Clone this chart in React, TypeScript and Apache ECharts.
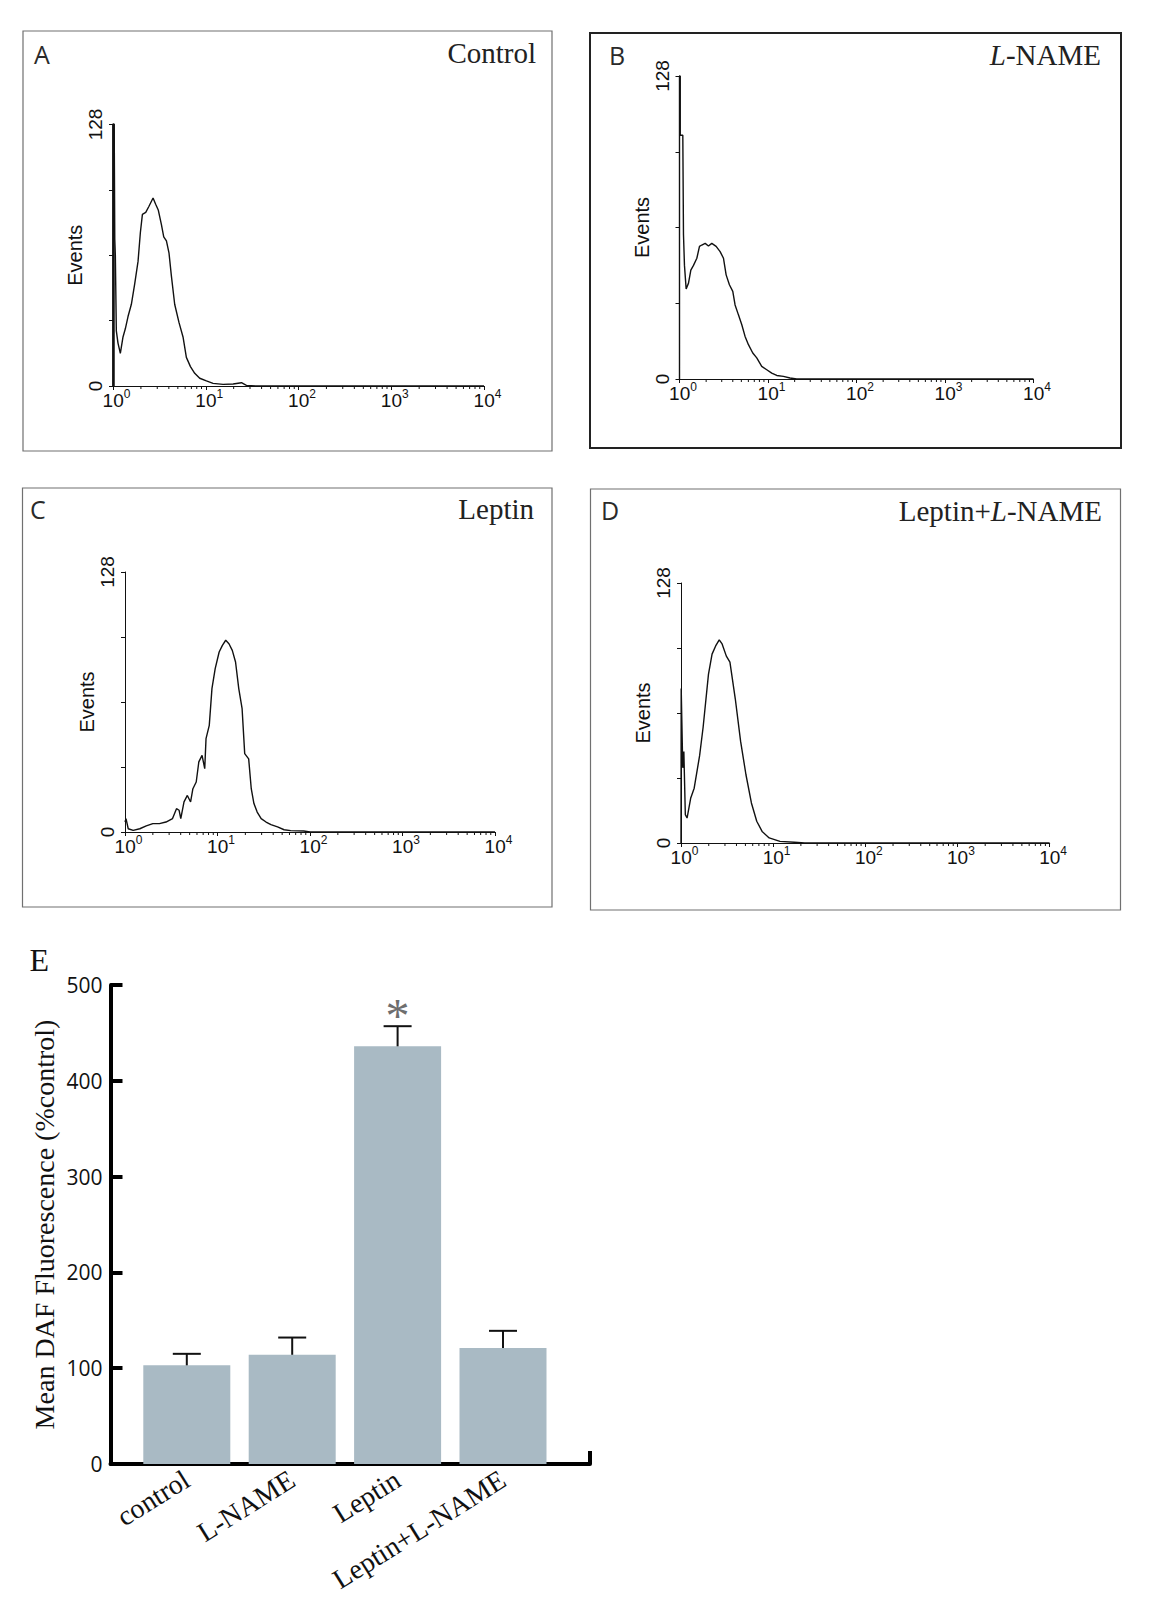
import React, { useEffect, useRef } from "react";
import * as echarts from "echarts";

// ---------- DATA ----------
// Flow-cytometry histograms: [fluorescence (log scale), events]
const histControl: [number, number][] = [
  [1, 0], [1, 128], [1.03, 128], [1.045, 72], [1.06, 64], [1.086, 27], [1.132, 21], [1.2, 16],
  [1.282, 24], [1.358, 28], [1.452, 34], [1.578, 40], [1.714, 50], [1.862, 61], [1.972, 75],
  [2.075, 84], [2.254, 85], [2.443, 88], [2.703, 92], [2.884, 89], [3.083, 86], [3.327, 79],
  [3.524, 73], [3.767, 71], [4.018, 65], [4.257, 54], [4.624, 40], [5.152, 31], [5.689, 24],
  [6.18, 14], [6.839, 9.5], [7.603, 6.2], [8.61, 3.8], [10.16, 2.5], [11.99, 1.3], [15.38, 0.8],
  [19.72, 1], [24.26, 1.6], [27.46, 0.3], [35, 0], [10000, 0],
];
const histLName: [number, number][] = [
  [1, 0], [1, 128], [1.02, 128], [1.02, 103], [1.09, 103], [1.109, 61], [1.138, 48], [1.189, 38],
  [1.264, 40.5], [1.343, 46], [1.439, 48], [1.57, 51], [1.682, 56], [1.786, 56.6], [1.95, 57.3],
  [2.123, 56.2], [2.317, 57.3], [2.594, 56], [2.877, 53.8], [3.141, 51], [3.365, 44], [3.664, 39.8],
  [4.0, 37], [4.246, 31.3], [4.634, 27.1], [5.058, 22.9], [5.508, 18], [6.012, 14.5], [6.73, 11],
  [7.464, 8.9], [8.492, 5.3], [9.683, 3.9], [11.02, 2.5], [12.56, 1.5], [14.93, 1.1], [17.74, 0.4],
  [21.09, 0], [10000, 0],
];
const histLeptin: [number, number][] = [
  [1, 5], [1.025, 6.6], [1.084, 1.6], [1.227, 0.8], [1.445, 1.6], [1.698, 3], [2.0, 4.1], [2.356, 4.1],
  [2.773, 4.9], [3.266, 6.6], [3.603, 11.5], [3.846, 10.7], [4.009, 6.6], [4.345, 14.8], [4.721, 18],
  [5.117, 14.8], [5.42, 21.3], [5.888, 24.6], [6.281, 34.5], [6.808, 37.7], [7.278, 31.2], [7.516, 46],
  [8.147, 52.5], [8.71, 70.6], [9.441, 80.4], [10.42, 88.6], [11.3, 91.9], [12.27, 94.4], [13.3, 92.7],
  [14.45, 89.4], [15.67, 83.7], [16.98, 70.6], [18.45, 60.7], [19.68, 38.6], [21.73, 36], [23.17, 21.3],
  [24.77, 14], [26.85, 9.8], [29.65, 6.6], [33.5, 4.9], [37.84, 3.6], [44.57, 2.5], [52.48, 1.1],
  [61.8, 0.7], [85.7, 0.5], [100, 0], [10000, 0],
];
const histLeptinLName: [number, number][] = [
  [1, 0], [1.005, 76], [1.018, 76], [1.045, 37], [1.074, 45], [1.114, 14], [1.164, 12.3], [1.273, 22],
  [1.39, 27], [1.592, 43], [1.738, 57], [1.986, 83], [2.173, 93], [2.377, 97], [2.6, 100], [2.793, 98],
  [3.105, 92], [3.396, 89], [3.882, 71], [4.436, 50], [5.07, 33.6], [5.808, 19.7], [6.637, 10.7],
  [7.586, 5.7], [9.057, 2.5], [11.86, 0.8], [16.94, 0.4], [22, 0], [10000, 0],
];
const histMinorTicks = [
  2, 3, 4, 5, 6, 7, 8, 9,
  20, 30, 40, 50, 60, 70, 80, 90,
  200, 300, 400, 500, 600, 700, 800, 900,
  2000, 3000, 4000, 5000, 6000, 7000, 8000, 9000,
];
const histYTickLabels = [0, 128];

// Bar chart (panel E)
const barCategories = ["control", "L-NAME", "Leptin", "Leptin+L-NAME"];
const barMeans = [103, 114, 436, 121];
const barErrorTops = [115, 132, 457, 139];
const barSignificance = ["", "", "*", ""];

// ---------- STYLE / LAYOUT ----------
const SANS = '"Liberation Sans", Arial, sans-serif';
const SANS2 = '"Open Sans", "Noto Sans", sans-serif';
const SERIF = '"Liberation Serif", "Times New Roman", serif';
const INK = "#111";

const panels = [
  { data: histControl, grid: { left: 113, top: 124.5, width: 371, height: 261.5 }, axisW: 2.5, box: [23, 31, 529, 420], letter: "A", lx: 34, ly: 54, title: "Control", tx: 536, ty: 53, boxColor: "#707070", boxW: 1.2 },
  { data: histLName, grid: { left: 679.5, top: 76, width: 354, height: 303 }, axisW: 1, box: [590, 33, 531, 415], letter: "B", lx: 609, ly: 55, title: "{i|L}-NAME", tx: 1101, ty: 54.5, boxColor: "#222", boxW: 2 },
  { data: histLeptin, grid: { left: 125, top: 572, width: 370, height: 260 }, axisW: 1, box: [22.5, 488, 529.5, 419], letter: "C", lx: 30, ly: 509, title: "Leptin", tx: 534, ty: 509, boxColor: "#707070", boxW: 1.2 },
  { data: histLeptinLName, grid: { left: 681, top: 583, width: 368.6, height: 260 }, axisW: 1, box: [590.5, 489, 530, 421], letter: "D", lx: 601, ly: 510, title: "Leptin+{i|L}-NAME", tx: 1102, ty: 510.5, boxColor: "#707070", boxW: 1.2 },
];

export default function App() {
  const ref = useRef<HTMLDivElement>(null);

  useEffect(() => {
    document.body.style.margin = "0";
    const chart = echarts.init(ref.current!, null, { renderer: "svg" });

    const grids: any[] = [];
    const xAxes: any[] = [];
    const yAxes: any[] = [];
    const series: any[] = [];
    const graphics: any[] = [];

    panels.forEach((p, i) => {
      grids.push({ ...p.grid, containLabel: false, outerBoundsMode: "none" });
      xAxes.push({
        type: "log",
        logBase: 10,
        gridIndex: i,
        min: 1,
        max: 10000,
        axisLine: { show: true, lineStyle: { color: INK, width: 1.2 } },
        axisTick: { show: true, length: 4, lineStyle: { color: INK, width: 1 } },
        splitLine: { show: false },
        minorTick: { show: false },
        axisLabel: {
          margin: 2,
          fontFamily: SANS,
          fontSize: 19,
          color: INK,
          lineHeight: 22,
          formatter: (v: number) => `{p|}{b|10}{s|${Math.round(Math.log10(v))}}`,
          rich: {
            p: { width: 7, fontSize: 19, lineHeight: 22 },
            b: { fontFamily: SANS, fontSize: 19, color: INK, lineHeight: 22, verticalAlign: "bottom" },
            s: { fontFamily: SANS, fontSize: 12, color: INK, lineHeight: 12, verticalAlign: "top" },
          },
        },
      });
      yAxes.push({
        type: "value",
        gridIndex: i,
        min: 0,
        max: 128,
        interval: 32,
        axisLine: { show: true, lineStyle: { color: INK, width: p.axisW } },
        axisTick: { show: true, length: 4, lineStyle: { color: INK, width: 1 } },
        splitLine: { show: false },
        axisLabel: {
          rotate: 90,
          margin: 8,
          fontFamily: SANS,
          fontSize: 19,
          color: INK,
          formatter: (v: number) => (histYTickLabels.includes(v) ? String(v) : ""),
        },
        name: "Events",
        nameLocation: "middle",
        nameRotate: 90,
        nameGap: 25,
        nameTextStyle: { fontFamily: SANS, fontSize: 20, color: INK },
      });
      series.push({
        type: "line",
        xAxisIndex: i,
        yAxisIndex: i,
        data: p.data,
        showSymbol: false,
        symbol: "none",
        lineStyle: { color: INK, width: 1.4 },
        silent: true,
        z: 3,
      });
      series.push({
        type: "custom",
        xAxisIndex: i,
        yAxisIndex: i,
        data: histMinorTicks.map((v) => [v, 0]),
        silent: true,
        clip: false,
        renderItem: (_params: any, api: any) => {
          const pt = api.coord([api.value(0), 0]);
          return {
            type: "line",
            shape: { x1: pt[0], y1: pt[1], x2: pt[0], y2: pt[1] + 3 },
            style: { stroke: INK, lineWidth: 1 },
          };
        },
      });

      graphics.push({
        type: "rect",
        shape: { x: p.box[0], y: p.box[1], width: p.box[2], height: p.box[3] },
        style: { fill: "none", stroke: p.boxColor, lineWidth: p.boxW },
        silent: true,
      });
      graphics.push({
        type: "text",
        style: {
          text: p.letter, x: p.lx, y: p.ly, fontFamily: SANS2, fontSize: 25, fill: "#2a2a2a",
          textAlign: "left", align: "left", textVerticalAlign: "middle", verticalAlign: "middle",
        },
      });
      graphics.push({
        type: "text",
        style: {
          text: p.title, x: p.tx, y: p.ty, fontFamily: SERIF, fontSize: 29, fill: "#222",
          textAlign: "right", align: "right", textVerticalAlign: "middle", verticalAlign: "middle",
          rich: {
            i: { fontFamily: SERIF, fontSize: 29, fontStyle: "italic", fill: "#222", color: "#222" },
          },
        },
      });
    });

    // ---- Panel E ----
    const eIdx = grids.length;
    const eLeft = 134.1;
    const eAxisX = 110.5;
    grids.push({ left: eLeft, top: 985, width: 421.6, height: 479, containLabel: false, outerBoundsMode: "none" });
    grids.push({ left: eAxisX, top: 985, width: 479.5, height: 479, containLabel: false, outerBoundsMode: "none" });
    xAxes.push({
      type: "category",
      gridIndex: eIdx,
      data: barCategories,
      axisLine: { show: false },
      axisTick: { show: false },
      axisLabel: {
        interval: 0, rotate: 32, margin: 13, fontFamily: SERIF, fontSize: 28, color: INK,
      },
    });
    xAxes.push({
      type: "value",
      gridIndex: eIdx + 1,
      min: 0,
      max: 1,
      interval: 1,
      axisLine: { show: true, lineStyle: { color: "#000", width: 4 } },
      axisTick: { show: true, inside: true, length: 13, lineStyle: { color: "#000", width: 4 } },
      axisLabel: { show: false },
      splitLine: { show: false },
    });
    yAxes.push({
      type: "value",
      gridIndex: eIdx,
      min: 0,
      max: 500,
      interval: 100,
      offset: eLeft - eAxisX,
      axisLine: { show: true, lineStyle: { color: "#000", width: 4 } },
      axisTick: { show: true, inside: true, length: 12, lineStyle: { color: "#000", width: 4 } },
      splitLine: { show: false },
      axisLabel: { margin: 8, fontFamily: SANS2, fontSize: 21, color: INK },
      name: "Mean DAF Fluorescence (%control)",
      nameLocation: "middle",
      nameRotate: 90,
      nameGap: 52,
      nameTextStyle: { fontFamily: SERIF, fontSize: 28, color: INK },
    });
    yAxes.push({ type: "value", gridIndex: eIdx + 1, min: 0, max: 1, show: false });

    series.push({
      type: "bar",
      xAxisIndex: eIdx,
      yAxisIndex: eIdx,
      data: barMeans,
      barWidth: 87,
      itemStyle: { color: "#a9bac4" },
      silent: true,
    });
    series.push({
      type: "custom",
      xAxisIndex: eIdx,
      yAxisIndex: eIdx,
      data: barCategories.map((_, k) => [k, barMeans[k], barErrorTops[k]]),
      encode: { x: 0, y: 2 },
      silent: true,
      clip: false,
      z: 4,
      renderItem: (params: any, api: any) => {
        const k = api.value(0);
        const base = api.coord([k, api.value(1)]);
        const top = api.coord([k, api.value(2)]);
        const children: any[] = [
          { type: "line", shape: { x1: top[0], y1: base[1], x2: top[0], y2: top[1] }, style: { stroke: "#111", lineWidth: 2 } },
          { type: "line", shape: { x1: top[0] - 14, y1: top[1], x2: top[0] + 14, y2: top[1] }, style: { stroke: "#111", lineWidth: 2 } },
        ];
        const mark = barSignificance[params.dataIndex];
        if (mark) {
          children.push({
            type: "text",
            style: {
              text: mark, x: top[0], y: top[1] - 11, fontFamily: SERIF, fontSize: 48, fill: "#6e6e6e",
              textAlign: "center", align: "center", textVerticalAlign: "middle", verticalAlign: "middle",
            },
          });
        }
        return { type: "group", children };
      },
    });

    graphics.push({
      type: "text",
      style: {
        text: "E", x: 29.5, y: 960, fontFamily: SERIF, fontSize: 32, fill: "#111",
        textAlign: "left", align: "left", textVerticalAlign: "middle", verticalAlign: "middle",
      },
    });

    chart.setOption({
      animation: false,
      backgroundColor: "#ffffff",
      grid: grids,
      xAxis: xAxes,
      yAxis: yAxes,
      series,
      graphic: { elements: graphics },
    });

    return () => chart.dispose();
  }, []);

  return <div ref={ref} style={{ width: 1173, height: 1605 }} />;
}
